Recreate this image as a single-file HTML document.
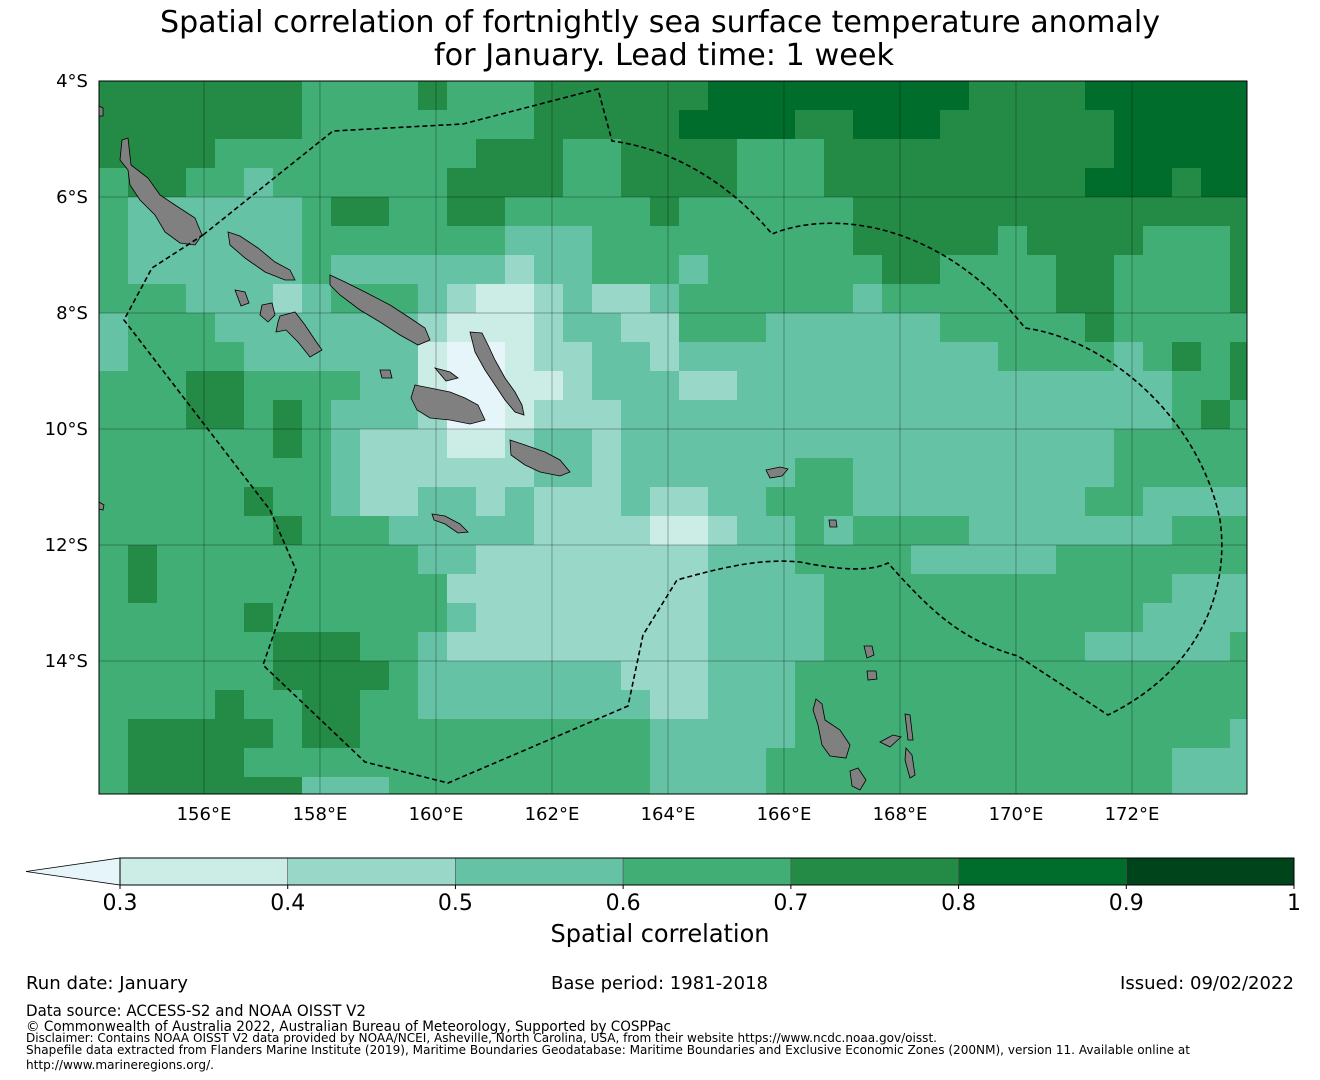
<!DOCTYPE html>
<html><head><meta charset="utf-8"><title>Spatial correlation map</title>
<style>
html,body{margin:0;padding:0;background:#fff;}
svg{display:block;font-family:"DejaVu Sans","Liberation Sans",sans-serif;}
</style></head>
<body>
<svg id="fig" width="1320" height="1080" viewBox="0 0 1320 1080" xmlns="http://www.w3.org/2000/svg">
<text x="660" y="32" text-anchor="middle" font-size="30" textLength="1000" lengthAdjust="spacingAndGlyphs" fill="#000">Spatial correlation of fortnightly sea surface temperature anomaly</text>
<text x="664" y="65" text-anchor="middle" font-size="30" textLength="460" lengthAdjust="spacingAndGlyphs" fill="#000">for January. Lead time: 1 week</text>
<defs><clipPath id="mapclip"><rect x="99" y="81" width="1148" height="713"/></clipPath></defs>
<g id="map" clip-path="url(#mapclip)">
  <g id="cells"></g>
  <g id="grid"></g>
  <g fill="#808080" stroke="#000" stroke-width="0.8">
    <polygon points="122,140 128,138 131,165 148,178 160,195 175,205 195,218 202,235 195,245 180,243 165,232 155,215 140,200 130,185 128,170 120,160"/>
    <polygon points="228,232 240,236 258,248 275,262 290,270 295,280 285,280 265,272 245,258 230,245"/>
    <polygon points="330,275 345,282 365,292 390,305 410,318 425,328 430,340 418,345 400,335 380,322 360,310 340,295 330,285"/>
    <polygon points="235,290 245,292 249,303 241,306"/>
    <polygon points="262,305 272,303 275,315 268,322 260,315"/>
    <polygon points="280,316 295,312 305,325 315,340 322,350 310,357 298,342 286,330 276,332 278,322"/>
    <polygon points="470,332 482,333 488,345 495,360 505,378 515,392 522,405 524,415 515,412 505,400 495,385 485,370 475,352"/>
    <polygon points="415,385 430,388 450,392 465,398 478,405 485,420 470,424 450,420 430,418 417,410 411,398"/>
    <polygon points="435,368 450,372 458,378 446,381"/>
    <polygon points="380,370 390,370 392,378 382,378"/>
    <polygon points="510,440 525,445 545,452 560,460 570,472 560,476 540,472 525,465 511,455"/>
    <polygon points="432,514 445,516 460,524 468,532 458,533 445,524 434,520"/>
    <polygon points="766,470 780,467 788,469 782,476 770,478"/>
    <polygon points="816,699 822,704 825,720 840,730 850,745 846,758 830,756 822,745 818,725 813,710"/>
    <polygon points="880,742 893,735 901,737 890,747"/>
    <polygon points="905,714 910,715 913,740 908,740"/>
    <polygon points="906,748 912,755 915,775 910,778 905,760"/>
    <polygon points="850,771 858,768 866,780 860,790 852,786"/>
    <polygon points="864,646 872,646 874,655 867,658"/>
    <polygon points="867,671 876,671 877,679 868,680"/>
    <polygon points="829,520 836,520 837,527 830,527"/>
    <polygon points="99,106 103,108 103,116 99,116"/>
    <polygon points="99,502 104,505 103,510 99,509"/>
  </g>
  <path fill="none" stroke="#000" stroke-width="1.6" stroke-dasharray="5,3"
    d="M203,235 L333,131 L463,124 L598,89 L612,141 C680,150 735,190 772,234 C830,210 940,220 1025,328 C1110,340 1200,420 1220,520 C1230,590 1200,670 1108,715 L1018,656 C960,640 930,610 888,563 C870,572 840,570 800,562 C760,558 720,568 677,580 L643,635 L628,706 L448,783 L365,762 L263,665 L296,570 L270,510 L124,320 L152,268 L203,235"/>
</g>
<rect x="99" y="81" width="1148" height="713" fill="none" stroke="#000" stroke-width="1"/>
<g id="yticks" font-size="18" text-anchor="end"></g>
<g id="xticks" font-size="18" text-anchor="middle"></g>
<g id="cbar"></g>
<text x="660" y="942" text-anchor="middle" font-size="25" textLength="219" lengthAdjust="spacingAndGlyphs">Spatial correlation</text>
<text x="26" y="989" font-size="18" textLength="162" lengthAdjust="spacingAndGlyphs">Run date: January</text>
<text x="551" y="989" font-size="18" textLength="217" lengthAdjust="spacingAndGlyphs">Base period: 1981-2018</text>
<text x="1294" y="989" font-size="18" text-anchor="end" textLength="174" lengthAdjust="spacingAndGlyphs">Issued: 09/02/2022</text>
<text x="26" y="1016" font-size="16" textLength="340" lengthAdjust="spacingAndGlyphs">Data source: ACCESS-S2 and NOAA OISST V2</text>
<text x="26" y="1031" font-size="14" textLength="645" lengthAdjust="spacingAndGlyphs">© Commonwealth of Australia 2022, Australian Bureau of Meteorology, Supported by COSPPac</text>
<text x="26" y="1042" font-size="12" textLength="911" lengthAdjust="spacingAndGlyphs">Disclaimer: Contains NOAA OISST V2 data provided by NOAA/NCEI, Asheville, North Carolina, USA, from their website https://www.ncdc.noaa.gov/oisst.</text>
<text x="26" y="1054" font-size="12" textLength="1164" lengthAdjust="spacingAndGlyphs">Shapefile data extracted from Flanders Marine Institute (2019), Maritime Boundaries Geodatabase: Maritime Boundaries and Exclusive Economic Zones (200NM), version 11. Available online at</text>
<text x="26" y="1069" font-size="12" textLength="188" lengthAdjust="spacingAndGlyphs">http://www.marineregions.org/.</text>
</svg>
<script>
const lonTicks = [156,158,160,162,164,166,168,170,172];
const lonLabels = ["156°E","158°E","160°E","162°E","164°E","166°E","168°E","170°E","172°E"];
const latTicks = [4,6,8,10,12,14];
const latLabels = ["4°S","6°S","8°S","10°S","12°S","14°S"];
const cbarLevels = [0.3,0.4,0.5,0.6,0.7,0.8,0.9,1];
const cbarLabels = ["0.3","0.4","0.5","0.6","0.7","0.8","0.9","1"];
const levelColors = ["#e6f5f9","#ccece6","#99d8c9","#66c2a4","#41ae76","#238b45","#006d2c","#00441b"];
// grid: 0.5° cells, row = latitude band from 4°S, char = colour class (2:<0.3, 3:0.3-0.4 ... 8:0.8-0.9)
const gridLonStart = 154.19;
const gridLatStart = 4;
const gridStep = 0.5;
const gridCols = 40;
const gridRows = [
"7777777"+"6666"+"7"+"666"+"777777"+"888888888"+"7777"+"888888",
"7777777"+"6666666"+"6"+"77777"+"8888"+"77"+"888"+"777777"+"88888",
"7777"+"666666666"+"777"+"66"+"7777"+"666"+"7777777777"+"88888",
"6"+"77"+"66"+"5"+"666666"+"7777"+"66"+"7777"+"666"+"777777777"+"888"+"7"+"88",
"6"+"555555"+"6"+"77"+"66"+"77"+"66666"+"7"+"666666"+"77777777777777",
"6"+"555555"+"6666666"+"555"+"666666666"+"77777"+"6"+"7777"+"666"+"7",
"6"+"555555"+"6"+"555555"+"4"+"55"+"666"+"5"+"666666"+"77"+"6666"+"77"+"6666"+"7",
"666"+"555"+"4"+"5"+"666"+"5"+"4"+"33"+"4"+"5"+"44"+"5"+"666666"+"5"+"666666"+"77"+"6666"+"7",
"5"+"666"+"5555555"+"4"+"33"+"3"+"4"+"55"+"44"+"666"+"555555"+"66666"+"7"+"66666",
"5"+"6666"+"555555"+"3"+"22"+"3"+"44"+"55"+"4"+"5"+"555555"+"5555"+"6666"+"5"+"6"+"7"+"6"+"7",
"666"+"77"+"6666"+"55"+"3"+"22"+"33"+"4"+"555"+"44"+"555555555555555"+"66"+"7",
"666"+"77"+"6"+"7"+"6"+"555"+"4"+"22"+"3"+"444"+"5555555555555555555"+"6"+"7"+"6"+"7",
"666666"+"7"+"6"+"5"+"444"+"33"+"4"+"55"+"4"+"5"+"5555555555555555"+"66666",
"66666666"+"5"+"444444"+"55"+"4"+"5"+"55555"+"66"+"555555555"+"66666",
"66666"+"7"+"66"+"5"+"44"+"55"+"4"+"5"+"444"+"5"+"44"+"55"+"666"+"55555555"+"66"+"555",
"666666"+"7"+"666"+"55555"+"4444"+"33"+"4"+"55"+"6"+"5"+"6666"+"5555555"+"666",
"6"+"7"+"6"+"66666666"+"55"+"444444"+"44"+"555"+"6666"+"55555"+"6666666",
"6"+"7"+"6666666666"+"44444444"+"4"+"5555"+"666666666666"+"555",
"66666"+"7"+"666666"+"5"+"4444444"+"4"+"5555"+"66666666666"+"5555",
"666666"+"777"+"66"+"5"+"444444444"+"5555"+"666666666"+"55555"+"6",
"666666"+"7777"+"6"+"555555"+"5"+"444"+"555"+"6666666666666666",
"6666"+"7"+"66"+"77"+"66"+"55555555"+"44"+"555"+"6666666666666666",
"6"+"77777"+"6"+"77"+"6666666666"+"55555"+"666666666666666"+"5",
"6"+"7777"+"66"+"66"+"6666666666"+"5555"+"66666666666666"+"555",
"6"+"777777"+"555"+"666666666"+"5555"+"66666666666666"+"555"
];

const NS = "http://www.w3.org/2000/svg";
const mapX0 = 99, mapY0 = 81, mapW = 1148, mapH = 713, pxPerDeg = 58, lonMin = 154.19, latMin = 4;
function xOf(lon){ return mapX0 + (lon - lonMin) * pxPerDeg; }
function yOf(lat){ return mapY0 + (lat - latMin) * pxPerDeg; }
function mk(tag, attrs, parent){ const e = document.createElementNS(NS, tag); for (const k in attrs) e.setAttribute(k, attrs[k]); parent.appendChild(e); return e; }

const cellsG = document.getElementById('cells');
gridRows.forEach((row, r) => {
  for (let c = 0; c < gridCols; c++) {
    const ch = c < row.length ? row[c] : row[row.length - 1];
    const cls = parseInt(ch, 10);
    const lon = gridLonStart + c * gridStep, lat = gridLatStart + r * gridStep;
    const x = xOf(lon), y = yOf(lat);
    const w = xOf(lon + gridStep) - x, h = yOf(lat + gridStep) - y;
    const rect = mk('rect', {x: x, y: y, width: w + 0.5, height: h + 0.5, fill: levelColors[cls - 2]}, cellsG);
    
    
  }
});

const gridG = document.getElementById('grid');
const xt = document.getElementById('xticks'), yt = document.getElementById('yticks');
lonTicks.forEach((lon, i) => {
  const x = xOf(lon);
  const ln = mk('line', {x1: x, y1: mapY0, x2: x, y2: mapY0 + mapH, stroke: '#000', 'stroke-opacity': 0.3, 'stroke-width': 1}, gridG);
  
  
  const t = mk('text', {x: x, y: 820}, xt);
  t.textContent = lonLabels[i];
  
  
});
latTicks.forEach((lat, i) => {
  const y = yOf(lat);
  const ln = mk('line', {x1: mapX0, y1: y, x2: mapX0 + mapW, y2: y, stroke: '#000', 'stroke-opacity': 0.3, 'stroke-width': 1}, gridG);
  
  
  const t = mk('text', {x: 88, y: y + 6}, yt);
  t.textContent = latLabels[i];
  
  
});

const cb = document.getElementById('cbar');
const cbX0 = 120, cbX1 = 1294, cbY = 858, cbH = 27;
function cbx(v){ return cbX0 + (v - cbarLevels[0]) / (cbarLevels[cbarLevels.length - 1] - cbarLevels[0]) * (cbX1 - cbX0); }
const tri = mk('polygon', {points: `${cbX0},${cbY} ${cbX0},${cbY + cbH} 26,${cbY + cbH / 2}`, fill: levelColors[0], stroke: '#000', 'stroke-width': 0.8}, cb);


for (let i = 0; i < cbarLevels.length - 1; i++) {
  const x = cbx(cbarLevels[i]), w = cbx(cbarLevels[i + 1]) - x;
  const s = mk('rect', {x: x, y: cbY, width: w, height: cbH, fill: levelColors[i + 1], stroke: '#555', 'stroke-width': 0.6}, cb);
  
  
}
const frame = mk('rect', {x: cbX0, y: cbY, width: cbX1 - cbX0, height: cbH, fill: 'none', stroke: '#000', 'stroke-width': 1}, cb);


cbarLevels.forEach((v, i) => {
  const x = cbx(v);
  const tk = mk('line', {x1: x, y1: cbY + cbH, x2: x, y2: cbY + cbH + 4, stroke: '#000'}, cb);
  
  
  const t = mk('text', {x: x, y: 910, 'font-size': 22, 'text-anchor': 'middle'}, cb);
  t.textContent = cbarLabels[i];
  
  
});
</script>
</body></html>
